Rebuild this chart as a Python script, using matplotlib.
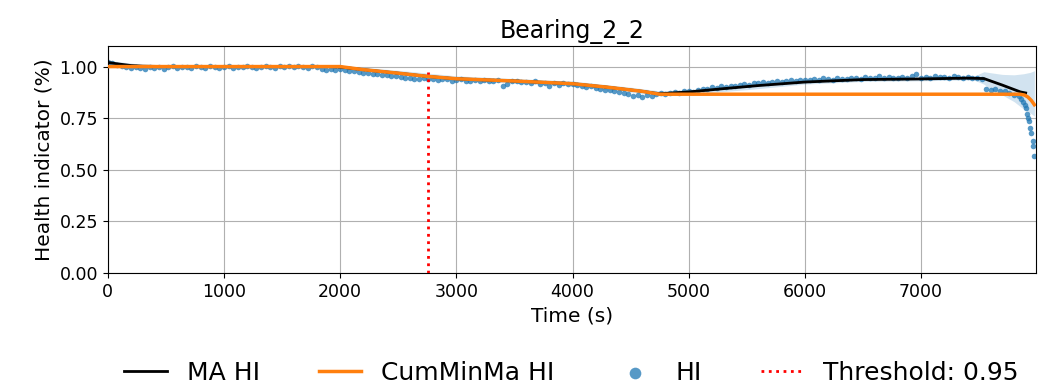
import numpy as np
from matplotlib import pyplot as plt

title = "Bearing_2_2"
threshold_t = 2760
threshold_label = "Threshold: 0.95"

# HI samples, one every 40 s from 0 to 7840 s
hi_t = np.arange(0, 7880, 40)
hi_v = [
    1.020, 1.015, 1.010, 1.005, 1.000, 0.995, 1.000, 0.995, 0.990, 1.000,
    0.995, 1.000, 0.990, 1.000, 1.005, 0.995, 1.000, 1.000, 0.995, 1.005,
    1.000, 0.995, 1.005, 1.000, 0.995, 1.000, 1.005, 0.995, 1.000, 1.000,
    1.005, 1.000, 0.995, 1.000, 1.005, 1.000, 0.995, 1.005, 1.000, 1.005,
    1.000, 1.005, 1.000, 0.995, 1.005, 1.000, 0.990, 0.985, 0.990, 0.985,
    0.990, 0.985, 0.980, 0.978, 0.975, 0.970, 0.968, 0.965, 0.962, 0.960,
    0.957, 0.952, 0.955, 0.948, 0.945, 0.947, 0.942, 0.940, 0.943, 0.938,
    0.940, 0.935, 0.940, 0.938, 0.930, 0.935, 0.940, 0.932, 0.928, 0.935,
    0.932, 0.935, 0.930, 0.928, 0.933, 0.905, 0.915, 0.930, 0.928, 0.925,
    0.925, 0.920, 0.928, 0.915, 0.920, 0.905, 0.918, 0.910, 0.920, 0.915,
    0.915, 0.910, 0.905, 0.900, 0.905, 0.895, 0.890, 0.888, 0.885, 0.880,
    0.875, 0.870, 0.865, 0.858, 0.860, 0.852, 0.862, 0.855, 0.865, 0.870,
    0.868, 0.872, 0.875, 0.872, 0.880, 0.882, 0.878, 0.886, 0.890, 0.892,
    0.900, 0.898, 0.905, 0.902, 0.908, 0.905, 0.912, 0.915, 0.910, 0.918,
    0.920, 0.924, 0.922, 0.926, 0.930, 0.927, 0.932, 0.934, 0.930, 0.935,
    0.937, 0.934, 0.940, 0.937, 0.943, 0.939, 0.937, 0.944, 0.940, 0.942,
    0.944, 0.947, 0.942, 0.950, 0.945, 0.947, 0.952, 0.944, 0.948, 0.946,
    0.947, 0.950, 0.945, 0.952, 0.962, 0.947, 0.950, 0.946, 0.952, 0.948,
    0.950, 0.947, 0.952, 0.948, 0.946, 0.950, 0.947, 0.944, 0.942, 0.890,
    0.885, 0.892, 0.884, 0.880, 0.870, 0.862, 0.855,
]
# fast drop at the very end
hi_end_t = [7860, 7875, 7890, 7900, 7910, 7920, 7930, 7940, 7950, 7960, 7965, 7970]
hi_end_v = [0.845, 0.830, 0.815, 0.800, 0.770, 0.750, 0.738, 0.700, 0.680, 0.640, 0.616, 0.567]

# moving average HI
ma_t = [0, 100, 200, 300, 500, 1000, 1500, 1900, 2000, 2200, 2500, 2760, 3000, 3500,
        4000, 4300, 4600, 4750, 5000, 5300, 5600, 6000, 6500, 7000, 7400, 7540,
        7700, 7855, 7900]
ma_v = [1.020, 1.012, 1.005, 1.002, 1.000, 1.000, 1.000, 1.000, 0.998, 0.985, 0.968,
        0.952, 0.941, 0.930, 0.917, 0.900, 0.880, 0.868, 0.877, 0.893, 0.908, 0.925,
        0.937, 0.940, 0.944, 0.942, 0.910, 0.877, 0.872]

# cumulative minimum of MA
cm_t = [0, 2000, 2200, 2500, 2760, 3000, 3500, 4000, 4300, 4600, 4750, 7850, 7890,
        7920, 7950, 7975]
cm_v = [1.000, 1.000, 0.985, 0.968, 0.952, 0.941, 0.930, 0.917, 0.900, 0.880, 0.866,
        0.866, 0.862, 0.852, 0.835, 0.815]

# uncertainty band around MA
band_t = [0, 300, 1000, 1900, 2000, 2500, 3000, 3500, 4000, 4500, 4750, 5000, 5500,
          6000, 6500, 7000, 7450, 7540, 7600, 7700, 7800, 7880, 7940, 7975]
band_lo = [1.005, 0.992, 0.993, 0.993, 0.990, 0.958, 0.932, 0.920, 0.906, 0.876, 0.858,
           0.866, 0.888, 0.915, 0.928, 0.931, 0.936, 0.915, 0.890, 0.862, 0.830, 0.795,
           0.775, 0.760]
band_hi = [1.030, 1.010, 1.008, 1.008, 1.006, 0.982, 0.955, 0.942, 0.930, 0.900, 0.882,
           0.888, 0.905, 0.934, 0.946, 0.950, 0.952, 0.975, 0.970, 0.962, 0.960, 0.965,
           0.972, 0.980]

fig = plt.figure(figsize=(10.46, 3.86), dpi=100)
ax = fig.add_axes([0.103, 0.293, 0.887, 0.588])

ax.fill_between(band_t, band_lo, band_hi, color='#1f77b4', alpha=0.2, linewidth=0)
ax.scatter(np.concatenate([hi_t, hi_end_t]), hi_v + hi_end_v, s=16, color='#1f77b4',
           alpha=0.75, linewidths=0, label='HI', zorder=2)
ax.plot(ma_t, ma_v, color='black', linewidth=2, label='MA HI', zorder=3)
ax.plot(cm_t, cm_v, color='#ff7f0e', linewidth=2.5, label='CumMinMa HI', zorder=4)
ax.vlines(threshold_t, 0, 0.975, colors='red', linestyles=':', linewidth=2,
          label=threshold_label, zorder=5)

ax.set_xlim(0, 7985)
ax.set_ylim(0, 1.1)
ax.set_yticks([0, 0.25, 0.5, 0.75, 1.0])
ax.grid(True)
ax.set_axisbelow(True)
ax.tick_params(labelsize=12.5)
ax.set_xlabel('Time (s)', fontsize=14.5)
ax.set_ylabel('Health indicator (%)', fontsize=14.5)
ax.set_title(title, fontsize=17)

handles, labels = ax.get_legend_handles_labels()
order = [labels.index(l) for l in ['MA HI', 'CumMinMa HI', 'HI', threshold_label]]
ax.legend([handles[i] for i in order], [labels[i] for i in order],
          loc='center', bbox_to_anchor=(0.5, -0.44), ncol=4, frameon=False,
          fontsize=18, markerscale=2.1, handlelength=1.7, columnspacing=2.35)

fig.savefig('out.png', dpi=100)
